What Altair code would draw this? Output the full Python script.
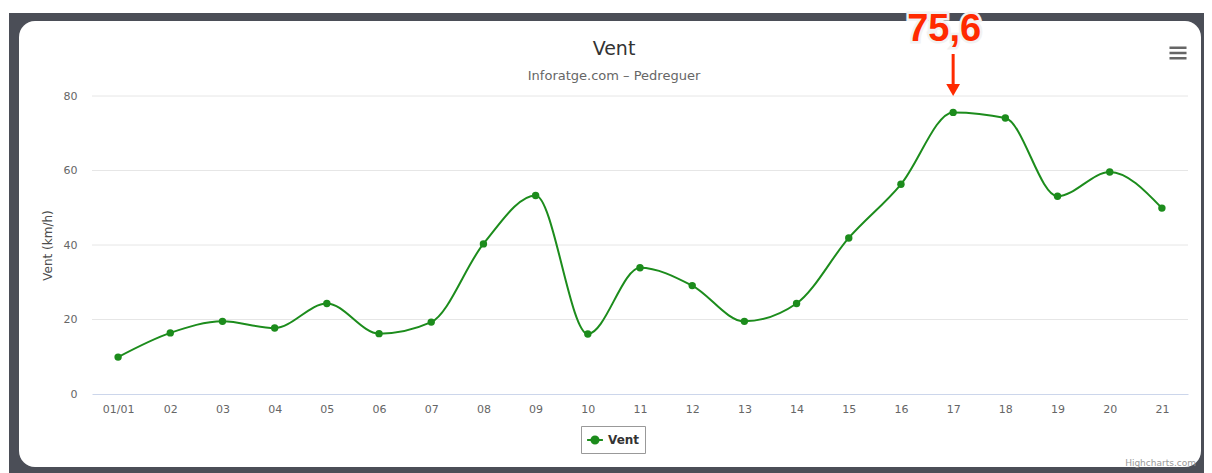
import altair as alt
import pandas as pd

days = ["01/01", "02", "03", "04", "05", "06", "07", "08", "09", "10", "11",
        "12", "13", "14", "15", "16", "17", "18", "19", "20", "21"]
vent = [9.9, 16.4, 19.5, 17.7, 24.3, 16.2, 19.3, 40.3, 53.3, 16.1, 33.9,
        29.1, 19.5, 24.3, 41.9, 56.3, 75.6, 74.1, 53.1, 59.6, 49.9]
y_ticks = [0, 20, 40, 60, 80]
series_name = "Vent"
chart_title = "Vent"
chart_subtitle = "Inforatge.com \u2013 Pedreguer"
y_title = "Vent (km/h)"
annot_day = "17"
annot_label = "75,6"
credit = "Highcharts.com"

GREEN = "#1c8c1c"
RED = "#ff2a00"
FONT = "DejaVu Sans"

W, H = 1096, 298

df = pd.DataFrame({"day": days, "value": vent, "series": series_name})
grid_df = pd.DataFrame({"value": y_ticks[1:]})

xenc = alt.X("day:N", sort=days, title=None,
             scale=alt.Scale(type="point", padding=0.5),
             axis=alt.Axis(labelAngle=0, labelColor="#666666", labelFont=FONT,
                           labelFontSize=11, ticks=False, domainColor="#ccd6eb",
                           domainWidth=1, grid=False, labelPadding=9, zindex=1))
yscale = alt.Scale(domain=[0, 80], nice=False)
yaxis = alt.Axis(values=y_ticks, labelColor="#666666",
                 labelFont=FONT, labelFontSize=11, ticks=False,
                 domain=False, grid=False, labelPadding=15,
                 titleColor="#4d4d4d", titleFont=FONT,
                 titleFontSize=12, titleFontWeight="normal",
                 titlePadding=9, zindex=1)
yenc = alt.Y("value:Q", title=y_title, scale=yscale, axis=yaxis)

deco = pd.DataFrame({"a": [0]})

frame = alt.Chart(deco).mark_rect(color="#4b4e57").encode(
    x=alt.value(-83), x2=alt.value(1120), y=alt.value(-83), y2=alt.value(390))
card = alt.Chart(deco).mark_rect(color="white", cornerRadius=16).encode(
    x=alt.value(-73), x2=alt.value(1109), y=alt.value(-75), y2=alt.value(371))

grid = alt.Chart(grid_df).mark_rule(color="#e6e6e6", strokeWidth=1).encode(
    y=yenc, x=alt.value(0), x2=alt.value(W))

title_df = pd.DataFrame({"t": [chart_title], "s": [chart_subtitle], "c": [credit]})
title_mark = alt.Chart(title_df).mark_text(
    font=FONT, fontSize=19, color="#333333", baseline="middle").encode(
    text="t:N", x=alt.value(522), y=alt.value(-47))
subtitle_mark = alt.Chart(title_df).mark_text(
    font=FONT, fontSize=13, color="#666666", baseline="middle").encode(
    text="s:N", x=alt.value(522), y=alt.value(-20))
credit_mark = alt.Chart(title_df).mark_text(
    font=FONT, fontSize=9, color="#999999", align="right", baseline="middle").encode(
    text="c:N", x=alt.value(1104), y=alt.value(367))

menu = alt.Chart(deco).mark_point(
    shape="M-1,-0.62L1,-0.62M-1,0L1,0M-1,0.62L1,0.62", filled=False,
    stroke="#666666", strokeWidth=2.5, size=290, opacity=1).encode(
    x=alt.value(1086), y=alt.value(-43))

line = alt.Chart(df).mark_line(interpolate="monotone", strokeWidth=2).encode(
    x=xenc, y=yenc,
    color=alt.Color("series:N", scale=alt.Scale(range=[GREEN]), title=None,
                    legend=alt.Legend(orient="none", legendX=489, legendY=330,
                                      strokeColor="#999999", padding=5,
                                      labelFont=FONT, labelFontSize=12,
                                      labelFontWeight="bold", labelColor="#333333",
                                      symbolType="M-1,0L1,0M0.45,0A0.45,0.45,0,1,1,-0.45,0A0.45,0.45,0,1,1,0.45,0",
                                      symbolSize=250, symbolStrokeWidth=2,
                                      symbolFillColor=GREEN, symbolStrokeColor=GREEN,
                                      fillColor="white", cornerRadius=0)))
points = alt.Chart(df).mark_point(filled=True, size=55, opacity=1).encode(
    x=alt.X("day:N", sort=days), y=yenc,
    color=alt.Color("series:N", legend=None))

annot_df = pd.DataFrame({"day": [annot_day], "label": [annot_label]})
arrow = alt.Chart(annot_df).mark_rule(color=RED, strokeWidth=3).encode(
    x=alt.X("day:N", sort=days), y=alt.value(-42), y2=alt.value(-12))
arrow_head = alt.Chart(annot_df).mark_point(
    shape="triangle-down", filled=True, color=RED, size=190, opacity=1).encode(
    x=alt.X("day:N", sort=days), y=alt.value(-6))
label_bg = alt.Chart(annot_df).mark_text(
    font="Liberation Sans", fontSize=38, fontWeight="bold", color="white",
    stroke="#f2f2f2", strokeWidth=5, baseline="middle", dx=-9).encode(
    x=alt.X("day:N", sort=days), y=alt.value(-66), text="label:N")
label = alt.Chart(annot_df).mark_text(
    font="Liberation Sans", fontSize=38, fontWeight="bold", color=RED,
    baseline="middle", dx=-9).encode(
    x=alt.X("day:N", sort=days), y=alt.value(-66), text="label:N")

chart = alt.layer(frame, card, grid, title_mark, subtitle_mark, credit_mark, menu,
                  line, points, arrow, arrow_head, label_bg, label).properties(
    width=W, height=H,
    autosize=alt.AutoSizeParams(type="none"),
    padding={"left": 84, "top": 88, "right": 16, "bottom": 79},
    background="white",
).configure_view(stroke=None)

chart.save("out.html", embed_options={"renderer": "svg", "actions": False})
